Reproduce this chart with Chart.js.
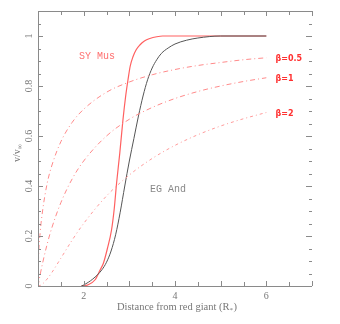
<!DOCTYPE html>
<html><head><meta charset="utf-8">
<script src="https://cdn.jsdelivr.net/npm/chart.js@4/dist/chart.umd.min.js"></script>
<style>html,body{margin:0;padding:0;background:#fff}canvas{display:block}</style>
</head><body>
<canvas id="c" width="340" height="324"></canvas>
<script>
// ---- data ----
const xSYMus = [1.95, 2.1, 2.25, 2.36, 2.43, 2.52, 2.61, 2.67, 2.72, 2.79, 2.86, 2.92, 2.97, 3.02, 3.08, 3.15, 3.23, 3.33, 3.45, 3.6, 3.73, 4.5, 5.0, 6.0];
const ySYMus = [0, 0.005, 0.025, 0.064, 0.09, 0.15, 0.224, 0.31, 0.41, 0.53, 0.664, 0.76, 0.824, 0.88, 0.917, 0.945, 0.964, 0.98, 0.99, 0.997, 1.0, 1.0, 1.0, 1.0];
const xEGAnd = [1.95, 2.0, 2.2, 2.4, 2.5, 2.6, 2.7, 2.8, 2.9, 3.0, 3.1, 3.2, 3.3, 3.4, 3.5, 3.6, 3.7, 3.85, 4.0, 4.25, 4.5, 5.0, 6.0];
const yEGAnd = [0, 0.004, 0.028, 0.065, 0.095, 0.14, 0.205, 0.295, 0.4, 0.5, 0.59, 0.68, 0.76, 0.825, 0.872, 0.905, 0.93, 0.952, 0.968, 0.983, 0.992, 1.0, 1.0];
const xBeta = [1.0, 1.01, 1.05, 1.1, 1.2, 1.3, 1.5, 1.75, 2.0, 2.5, 3.0, 3.5, 4.0, 4.5, 5.0, 5.5, 6.0];
const yBeta05 = [0, 0.1, 0.218, 0.30, 0.41, 0.48, 0.577, 0.655, 0.707, 0.775, 0.816, 0.845, 0.866, 0.882, 0.894, 0.905, 0.913];
const yBeta1 = [0, 0.01, 0.048, 0.091, 0.167, 0.231, 0.333, 0.429, 0.5, 0.6, 0.667, 0.714, 0.75, 0.778, 0.8, 0.818, 0.833];
const yBeta2 = [0, 0.0001, 0.0023, 0.0083, 0.028, 0.053, 0.111, 0.184, 0.25, 0.36, 0.444, 0.51, 0.5625, 0.605, 0.64, 0.669, 0.694];
const xTickLabels = [2, 4, 6];
const yTickLabels = [0, 0.2, 0.4, 0.6, 0.8, 1];
const curveLabels = ["β=0.5", "β=1", "β=2"];
const curveLabelY = [0.913, 0.833, 0.694];

const pts = (xs, ys) => xs.map((x, i) => ({x, y: ys[i]}));
const AX = '#8a8a8a';

const axesPlugin = {
  id: 'axesPlugin',
  afterDatasetsDraw(chart) {
    const ctx = chart.ctx, xs = chart.scales.x, ys = chart.scales.y;
    const a = chart.chartArea;
    ctx.save();
    ctx.strokeStyle = AX; ctx.lineWidth = 1;
    ctx.beginPath();
    ctx.moveTo(a.left + 0.5, a.top); ctx.lineTo(a.left + 0.5, a.bottom);
    ctx.moveTo(a.left, a.bottom + 0.5); ctx.lineTo(a.right, a.bottom + 0.5);
    ctx.moveTo(a.left, a.top + 0.5); ctx.lineTo(a.right, a.top + 0.5);
    for (let k = 2; k <= 14; k++) {
      const v = k / 2; const px = Math.round(xs.getPixelForValue(v)) + 0.5;
      const len = (k % 2 === 0) ? 5 : 4;
      ctx.moveTo(px, a.bottom); ctx.lineTo(px, a.bottom - len);
      ctx.moveTo(px, a.top); ctx.lineTo(px, a.top + len);
    }
    for (let k = 1; k <= 21; k++) {
      const v = k * 0.05; const py = Math.round(ys.getPixelForValue(v)) + 0.5;
      const major = (k % 4 === 0);
      const len = major ? 5 : 3;
      ctx.moveTo(a.left, py); ctx.lineTo(a.left + len, py);
      ctx.moveTo(a.right, py); ctx.lineTo(a.right - (major ? 6 : 3), py);
    }
    ctx.stroke();

    ctx.fillStyle = '#777';
    ctx.font = '10px "Liberation Serif", serif';
    ctx.textAlign = 'center'; ctx.textBaseline = 'middle';
    xTickLabels.forEach(v => ctx.fillText(String(v), xs.getPixelForValue(v), a.bottom + 10));
    yTickLabels.forEach(v => {
      ctx.save();
      ctx.translate(a.left - 9, ys.getPixelForValue(v));
      ctx.rotate(-Math.PI / 2);
      ctx.fillText(String(v), 0, 0);
      ctx.restore();
    });
    ctx.font = '10.5px "Liberation Serif", serif';
    const t1 = 'Distance from red giant (R';
    const w1 = ctx.measureText(t1).width;
    const total = w1 + 4 + ctx.measureText(')').width;
    let sx = (a.left + a.right) / 2 - total / 2 + 2;
    ctx.textAlign = 'left';
    ctx.fillText(t1, sx, a.bottom + 21);
    ctx.font = '7px "Liberation Serif", serif';
    ctx.fillText('*', sx + w1, a.bottom + 24);
    ctx.font = '10.5px "Liberation Serif", serif';
    ctx.fillText(')', sx + w1 + 4, a.bottom + 21);
    ctx.save();
    ctx.translate(17, 150);
    ctx.rotate(-Math.PI / 2);
    ctx.textAlign = 'left';
    ctx.font = '10px "Liberation Serif", serif';
    const t2 = 'v/v';
    const w2 = ctx.measureText(t2).width;
    ctx.fillText(t2, -12, 0);
    ctx.font = '7px "Liberation Serif", serif';
    ctx.fillText('∞', -12 + w2, 3);
    ctx.restore();

    ctx.textAlign = 'left';
    ctx.font = '10px "Liberation Mono", monospace';
    ctx.fillStyle = '#ff7070';
    ctx.fillText('SY Mus', xs.getPixelForValue(1.9), ys.getPixelForValue(0.92));
    ctx.fillStyle = '#888';
    ctx.fillText('EG And', xs.getPixelForValue(3.45), ys.getPixelForValue(0.385));
    ctx.fillStyle = '#ff3030';
    ctx.font = 'bold 8px "DejaVu Sans", sans-serif';
    curveLabels.forEach((t, i) => ctx.fillText(t, xs.getPixelForValue(6.2), ys.getPixelForValue(curveLabelY[i]) + 1));
    ctx.restore();
  }
};

const common = {showLine: true, pointRadius: 0, borderWidth: 1, cubicInterpolationMode: 'monotone'};
new Chart(document.getElementById('c'), {
  type: 'scatter',
  data: {
    datasets: [
      {...common, data: pts(xBeta, yBeta05), borderColor: '#ff8a8a', borderDash: [5, 3, 1, 3]},
      {...common, data: pts(xBeta, yBeta1), borderColor: '#ff8a8a', borderDash: [5, 3, 1, 3]},
      {...common, data: pts(xBeta, yBeta2), borderColor: '#ff9a9a', borderDash: [3, 3, 1, 3]},
      {...common, data: pts(xEGAnd, yEGAnd), borderColor: '#555'},
      {...common, data: pts(xSYMus, ySYMus), borderColor: '#ff6060', borderWidth: 1.2}
    ]
  },
  options: {
    responsive: false, animation: false,
    layout: {padding: {left: 38, right: 28, top: 11, bottom: 38}},
    plugins: {legend: {display: false}, tooltip: {enabled: false}},
    scales: {
      x: {type: 'linear', min: 1, max: 7, display: false},
      y: {type: 'linear', min: 0, max: 1.1, display: false}
    }
  },
  plugins: [axesPlugin]
});
</script>
</body></html>
